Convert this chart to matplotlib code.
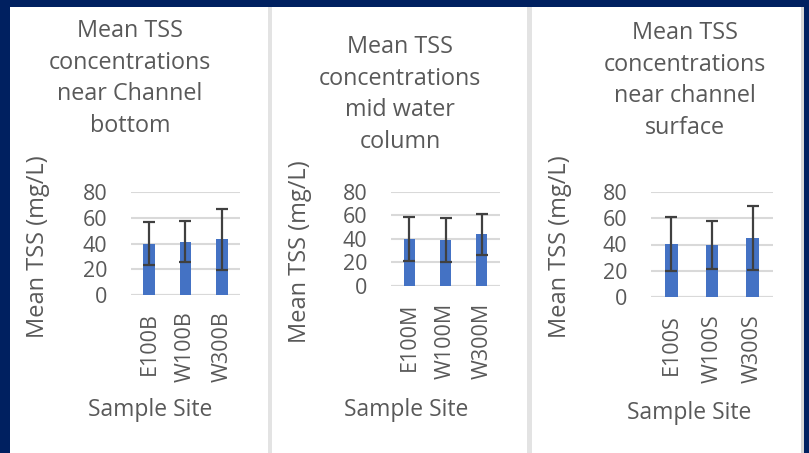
import matplotlib.pyplot as plt
from matplotlib.patches import Rectangle

plt.rcParams['font.family'] = ['Open Sans', 'DejaVu Sans']

# data
sites_b = ["E100B", "W100B", "W300B"]
mean_b = [40.0, 41.5, 43.4]
err_b = [16.5, 16.0, 23.7]

sites_m = ["E100M", "W100M", "W300M"]
mean_m = [39.8, 39.0, 43.7]
err_m = [18.5, 19.0, 17.7]

sites_s = ["E100S", "W100S", "W300S"]
mean_s = [40.5, 39.4, 45.0]
err_s = [20.5, 18.2, 24.0]

titles = ["Mean TSS\nconcentrations\nnear Channel\nbottom",
          "Mean TSS\nconcentrations\nmid water\ncolumn",
          "Mean TSS\nconcentrations\nnear channel\nsurface"]

W, H = 809, 453
navy = "#002060"
bar_col = "#4472C4"
text_col = "#595959"
grid_col = "#D9D9D9"
err_col = "#404040"

fig = plt.figure(figsize=(W / 100, H / 100), dpi=100, facecolor=navy)


def px_rect(x0, y0, x1, y1, color):
    # rectangle in pixel coords, y measured from top
    fig.patches.append(Rectangle((x0 / W, 1 - y1 / H), (x1 - x0) / W, (y1 - y0) / H,
                                 transform=fig.transFigure, facecolor=color,
                                 edgecolor="none", zorder=-5))


px_rect(10, 7, 804, H, "white")
px_rect(268, 7, 272, H, "#E3E3E3")
px_rect(527, 7, 532, H, "#E3E3E3")
px_rect(801, 7, 804, H, "#D6D6D6")

# axes boxes in pixels: left, right, top (80), bottom (0)
boxes = [(131, 240, 192, 295), (391, 500, 191.7, 285.7), (651, 773, 191.7, 297.3)]
title_pos = [(130, 19), (400, 35), (685, 21)]
ylab_pos = [(38, 247), (300, 252), (560, 247)]
xlab_pos = [(150, 410), (406, 410), (689, 413)]
bar_w = [0.33, 0.31, 0.31]

data = [(sites_b, mean_b, err_b), (sites_m, mean_m, err_m), (sites_s, mean_s, err_s)]

for i, (sites, means, errs) in enumerate(data):
    l, r, t, b = boxes[i]
    ax = fig.add_axes([l / W, 1 - b / H, (r - l) / W, (b - t) / H])
    ax.set_zorder(2)
    ax.set_facecolor("none")
    x = range(len(sites))
    ax.bar(x, means, width=bar_w[i], color=bar_col, zorder=3)
    ax.errorbar(x, means, yerr=errs, fmt="none", ecolor=err_col, elinewidth=1.6,
                capsize=4.5, capthick=1.6, zorder=4)
    ax.set_ylim(0, 80)
    ax.set_xlim(-0.5, 2.5)
    ax.set_yticks([0, 20, 40, 60, 80])
    ax.set_xticks(list(x))
    ax.set_xticklabels(sites, rotation=90)
    ax.tick_params(axis="both", length=0, labelsize=15.5, labelcolor=text_col)
    ax.tick_params(axis="x", pad=12)
    ax.tick_params(axis="y", pad=17)
    ax.grid(axis="y", color=grid_col, linewidth=1.5, zorder=0)
    ax.set_axisbelow(True)
    for s in ax.spines.values():
        s.set_visible(False)
    ax.axhline(0, color=grid_col, linewidth=1.5, zorder=1)

    tx, ty = title_pos[i]
    fig.text(tx / W, 1 - ty / H, titles[i], ha="center", va="top", fontsize=16.8,
             color=text_col, linespacing=1.42)
    yx, yy = ylab_pos[i]
    fig.text(yx / W, 1 - yy / H, "Mean TSS (mg/L)", ha="center", va="center",
             rotation=90, fontsize=17, color=text_col)
    lx, ly = xlab_pos[i]
    fig.text(lx / W, 1 - ly / H, "Sample Site", ha="center", va="center",
             fontsize=16.5, color=text_col)

fig.savefig("out.png", dpi=100, facecolor=navy)
